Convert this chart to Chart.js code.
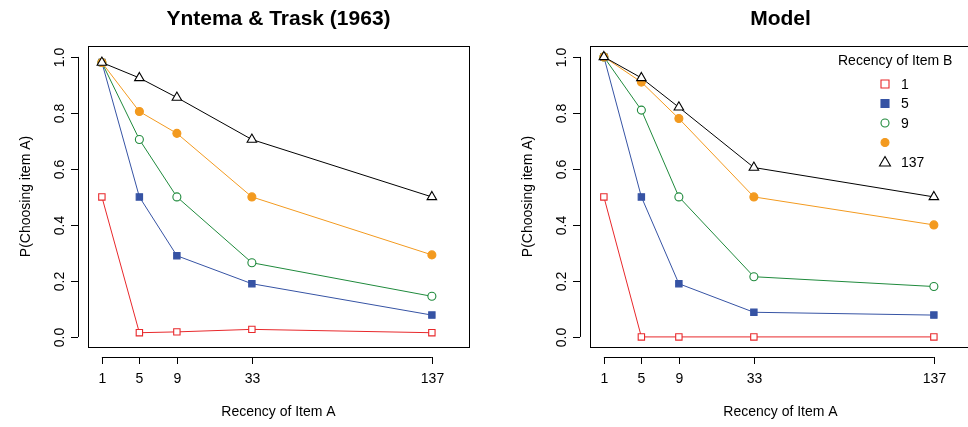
<!DOCTYPE html>
<html><head><meta charset="utf-8">
<script src="https://cdn.jsdelivr.net/npm/chart.js@4"></script>
<style>body{margin:0;background:#fff;width:968px;height:427px;overflow:hidden;display:flex}
#ca{position:relative;width:484px;height:427px;flex:none}
#cb{position:relative;width:500px;height:427px;flex:none}</style></head>
<body><div id="ca"><canvas id="a"></canvas></div><div id="cb"><canvas id="b"></canvas></div>
<script>
const recency = [1, 5, 9, 33, 137];
const xPositions = [1, 2, 3, 5, 9.8];
const seriesLabels = ['1', '5', '9', '', '137'];
const obs1 = [0.5, 0.015, 0.018, 0.027, 0.015];
const obs5 = [0.98, 0.5, 0.29, 0.19, 0.078];
const obs9 = [0.98, 0.705, 0.5, 0.265, 0.145];
const obs33 = [0.98, 0.805, 0.727, 0.5, 0.293];
const obs137 = [0.98, 0.925, 0.855, 0.705, 0.5];
const mod1 = [0.5, 0, 0, 0, 0];
const mod5 = [1, 0.5, 0.19, 0.088, 0.078];
const mod9 = [1, 0.81, 0.5, 0.215, 0.18];
const mod33 = [1, 0.91, 0.78, 0.5, 0.4];
const mod137 = [1, 0.925, 0.82, 0.605, 0.5];
const yTicks = [0, 0.2, 0.4, 0.6, 0.8, 1.0];

const styles = [
 {c:'#e8282b', ps:'rect', bg:'#fff'},
 {c:'#3653a4', ps:'rect', bg:'#3653a4'},
 {c:'#1f8a3c', ps:'circle', bg:'#fff'},
 {c:'#f39a1f', ps:'circle', bg:'#f39a1f'},
 {c:'#000', ps:'triangle', bg:'#fff'}
];
const F = '"Liberation Sans", Arial, sans-serif';

function mk(arr, i){
 const s = styles[i];
 return {data: arr.map((v,k)=>({x:xPositions[k], y:v})), borderColor:s.c, borderWidth:1,
  pointStyle:s.ps, pointBackgroundColor:s.bg, pointBorderColor:s.c,
  pointBorderWidth:1.1, pointRadius: s.ps==='circle'?4:(s.ps==='rect'?4.5:5.5), pointHoverRadius:5, order: 5-i};
}

const deco = (title, legend) => ({
 id:'deco',
 afterDraw(ch){
  const ctx = ch.ctx, a = ch.chartArea, xs = ch.scales.x, ys = ch.scales.y;
  ctx.save();
  ctx.strokeStyle='#000'; ctx.lineWidth=1;
  ctx.strokeRect(a.left+0.5, a.top+0.5, a.right-a.left, a.bottom-a.top);
  ctx.fillStyle='#000';
  ctx.font='bold 21px '+F; ctx.textAlign='center'; ctx.textBaseline='middle';
  ctx.fillText(title, (a.left+a.right)/2, 19);
  const ax = a.left-10;
  ctx.beginPath(); ctx.moveTo(ax+0.5, ys.getPixelForValue(0)); ctx.lineTo(ax+0.5, ys.getPixelForValue(1)); ctx.stroke();
  ctx.font='14px '+F;
  yTicks.forEach(t=>{ const y = Math.round(ys.getPixelForValue(t))+0.5;
   ctx.beginPath(); ctx.moveTo(ax, y); ctx.lineTo(ax-7, y); ctx.stroke();
   ctx.save(); ctx.translate(ax-18, y); ctx.rotate(-Math.PI/2); ctx.fillText(t.toFixed(1),0,0); ctx.restore();
  });
  ctx.save(); ctx.translate(a.left-62, (a.top+a.bottom)/2); ctx.rotate(-Math.PI/2);
  ctx.fillText('P(Choosing item A)',0,0); ctx.restore();
  const ay = a.bottom+10;
  ctx.beginPath(); ctx.moveTo(xs.getPixelForValue(xPositions[0]), ay+0.5); ctx.lineTo(xs.getPixelForValue(xPositions[4]), ay+0.5); ctx.stroke();
  xPositions.forEach((p,k)=>{ const x=Math.round(xs.getPixelForValue(p))+0.5;
   ctx.beginPath(); ctx.moveTo(x, ay); ctx.lineTo(x, ay+7); ctx.stroke();
   ctx.fillText(String(recency[k]), x, ay+22);
  });
  ctx.fillText('Recency of Item A', (a.left+a.right)/2, 412);
  if(legend){
   ctx.textAlign='left';
   ctx.fillText('Recency of Item B', 354, 61);
   seriesLabels.forEach((lab,i)=>{
    const y = 84 + i*19.5, px = 401;
    const s = styles[i];
    ctx.save(); ctx.strokeStyle=s.c; ctx.fillStyle=s.bg; ctx.lineWidth=1.1;
    ctx.beginPath();
    if(s.ps==='rect'){ ctx.rect(px-4, y-4, 8, 8);}
    else if(s.ps==='circle'){ ctx.arc(px, y, 4, 0, Math.PI*2);}
    else { ctx.moveTo(px, y-5.5); ctx.lineTo(px+5.5, y+4); ctx.lineTo(px-5.5, y+4); ctx.closePath(); }
    ctx.fill(); ctx.stroke(); ctx.restore();
    ctx.fillText(lab, px+16, y+1);
   });
  }
  ctx.restore();
 }
});

function chart(id, sets, title, legend, pl, pr){
 new Chart(document.getElementById(id), {
  type:'line',
  data:{datasets: sets.map((s,i)=>mk(s,i))},
  options:{responsive:true, maintainAspectRatio:false, animation:false,
   layout:{padding:{left:pl, right:pr, top:46, bottom:80}},
   plugins:{legend:{display:false}, tooltip:{enabled:false}},
   scales:{x:{type:'linear', display:false, min:0.63, max:10.79},
           y:{display:false, min:-0.036, max:1.039}}},
  plugins:[deco(title, legend)]
 });
}
chart('a', [obs1, obs5, obs9, obs33, obs137], 'Yntema & Trask (1963)', false, 88, 15);
chart('b', [mod1, mod5, mod9, mod33, mod137], 'Model', true, 106, 13);
</script></body></html>
